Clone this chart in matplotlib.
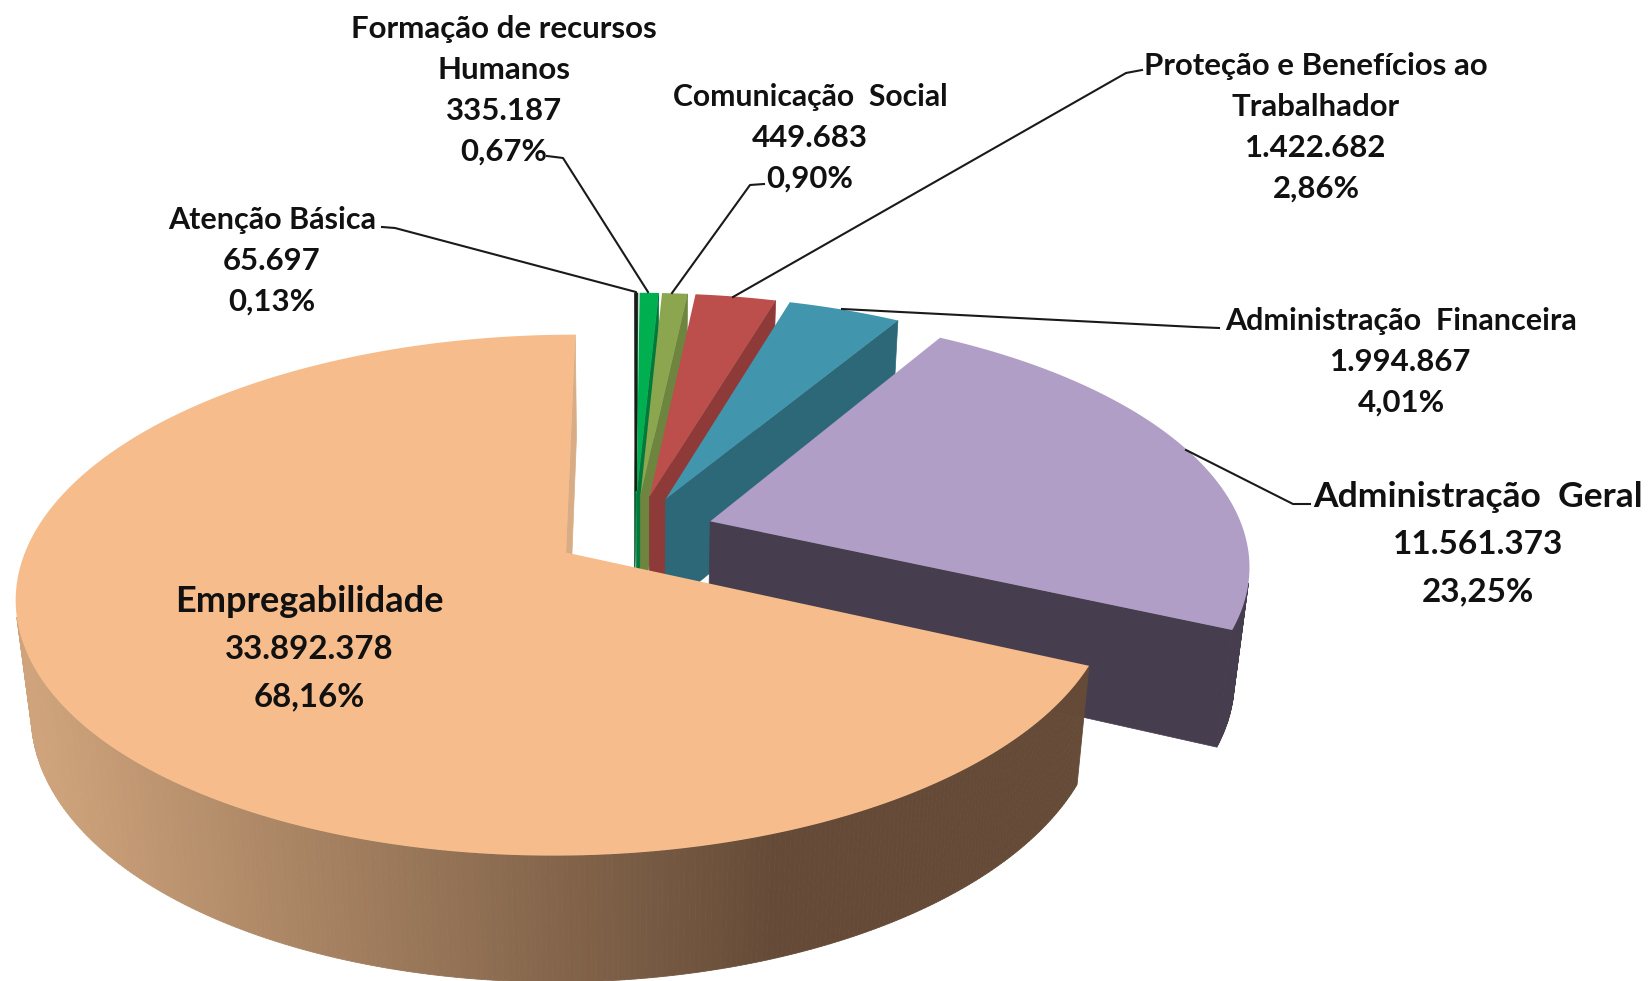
import numpy as np
import matplotlib
matplotlib.use('Agg')
import matplotlib.pyplot as plt

# slices clockwise from 12 o'clock
names = [['Atenção Básica'], ['Formação de recursos', 'Humanos'], ['Comunicação  Social'],
         ['Proteção e Benefícios ao', 'Trabalhador'], ['Administração  Financeira'],
         ['Administração  Geral'], ['Empregabilidade']]
values = [65697, 335187, 449683, 1422682, 1994867, 11561373, 33892378]
percents = ['0,13%', '0,67%', '0,90%', '2,86%', '4,01%', '23,25%', '68,16%']

top_colors = ['#141414', '#00B050', '#8BA64E', '#BC4E4B', '#4196AE', '#B09EC6', '#F6BC8B']
wall_colors = ['#0B5F35', '#007A3A', '#6E8540', '#8E3A38', '#2D6879', '#463E4F', '#D8AC84']

# label placement: centre x, first baseline y, line step, font sizes
label_x = [272, 504, 810, 1316, 1401, 1478, 309]
label_y = [229, 38, 106, 75, 330, 507, 612]
label_step = [41, 41, 41, 41, 41, 47, 47]
name_size = [22, 22.5, 21.7, 22.4, 22, 25.5, 26]
number_size = [22.4, 22.4, 22.4, 22.4, 22.4, 24, 23.8]

# leader lines, label end first
leaders = [[(382, 227), (395, 228), (636, 292), (636, 490)],
           [(547, 156), (563, 158), (648, 292)],
           [(764, 184), (750, 185), (672, 293)],
           [(1142, 70), (1126, 73), (733, 297)],
           [(1219, 328), (1195, 327), (842, 309)],
           [(1310, 504), (1293, 504), (1186, 450)]]

# perspective of the pie, in pixels of the full picture
cam_x = 632.0
cam_shift = 66.0
apex_y = 552.5
scale_x = 541.0
scale_y = 253.5
persp = 0.1636
depth = 116.5
depth_w = 0.025
explode = 0.15


def project(u, v, z=0.0):
    # u right, v towards the viewer, z = 0 top face, z = 1 bottom face
    w = 1 - persp * v + depth_w * z
    x = cam_x + (scale_x * u - cam_shift) / w
    y = apex_y + (scale_y * v + depth * z) / w
    return x, y


def mix_wall(x):
    t = np.clip((x - 30) / 745, 0, 1)
    a = np.array(matplotlib.colors.to_rgb('#CFA47C'))
    b = np.array(matplotlib.colors.to_rgb('#654B37'))
    return a + (b - a) * t


def faces_viewer(xs, ys):
    area = sum(xs[k] * ys[(k + 1) % 4] - xs[(k + 1) % 4] * ys[k] for k in range(4))
    return area < 0


fractions = np.array(values) / sum(values)
edges = np.concatenate([[0], np.cumsum(fractions)]) * 2 * np.pi

# the big slice sits at the origin of the projection
mid_big = (edges[-2] + edges[-1]) / 2
cu = -explode * np.sin(mid_big)
cv = explode * np.cos(mid_big)

fig = plt.figure(figsize=(16.5, 9.81), dpi=100)
ax = fig.add_axes([0, 0, 1, 1])
ax.set_xlim(0, 1650)
ax.set_ylim(981, 0)
ax.axis('off')

for i in range(len(values)):
    t0, t1 = edges[i], edges[i + 1]
    mid = (t0 + t1) / 2
    au = cu + explode * np.sin(mid)
    av = cv - explode * np.cos(mid)
    th = np.linspace(t0, t1, max(int(np.degrees(t1 - t0) * 2), 2) + 1)
    ru = au + np.sin(th)
    rv = av - np.cos(th)

    xa, ya = project(au, av)
    xb, yb = project(au, av, 1)

    # outer wall, front part only
    xt, yt = project(ru, rv)
    xl, yl = project(ru, rv, 1)
    for j in range(len(th) - 1):
        qx = [xt[j], xt[j + 1], xl[j + 1], xl[j]]
        qy = [yt[j], yt[j + 1], yl[j + 1], yl[j]]
        if not faces_viewer(qx, qy):
            continue
        if i == len(values) - 1:
            col = mix_wall((xt[j] + xt[j + 1]) / 2)
        else:
            col = wall_colors[i]
        ax.fill(qx, qy, facecolor=col, edgecolor=col, lw=0.6)

    # end wall
    xr, yr = project(ru[-1], rv[-1])
    xs, ys = project(ru[-1], rv[-1], 1)
    ax.fill([xa, xr, xs, xb], [ya, yr, ys, yb], facecolor=wall_colors[i], edgecolor=wall_colors[i], lw=0.5)

    # top
    ax.fill(np.r_[xa, xt], np.r_[ya, yt], color=top_colors[i], lw=0)

for pts in leaders:
    ax.plot([p[0] for p in pts], [p[1] for p in pts], color='#1A1A1A', lw=1.5,
            solid_joinstyle='round')

for i in range(len(values)):
    lines = names[i] + [f'{values[i]:,}'.replace(',', '.'), percents[i]]
    for j, line in enumerate(lines):
        size = name_size[i] if j < len(names[i]) else number_size[i]
        ax.text(label_x[i], label_y[i] + j * label_step[i], line, ha='center', va='baseline',
                fontsize=size, family='Lato', weight='bold', color='#111111')

fig.savefig('out.png', dpi=100)
